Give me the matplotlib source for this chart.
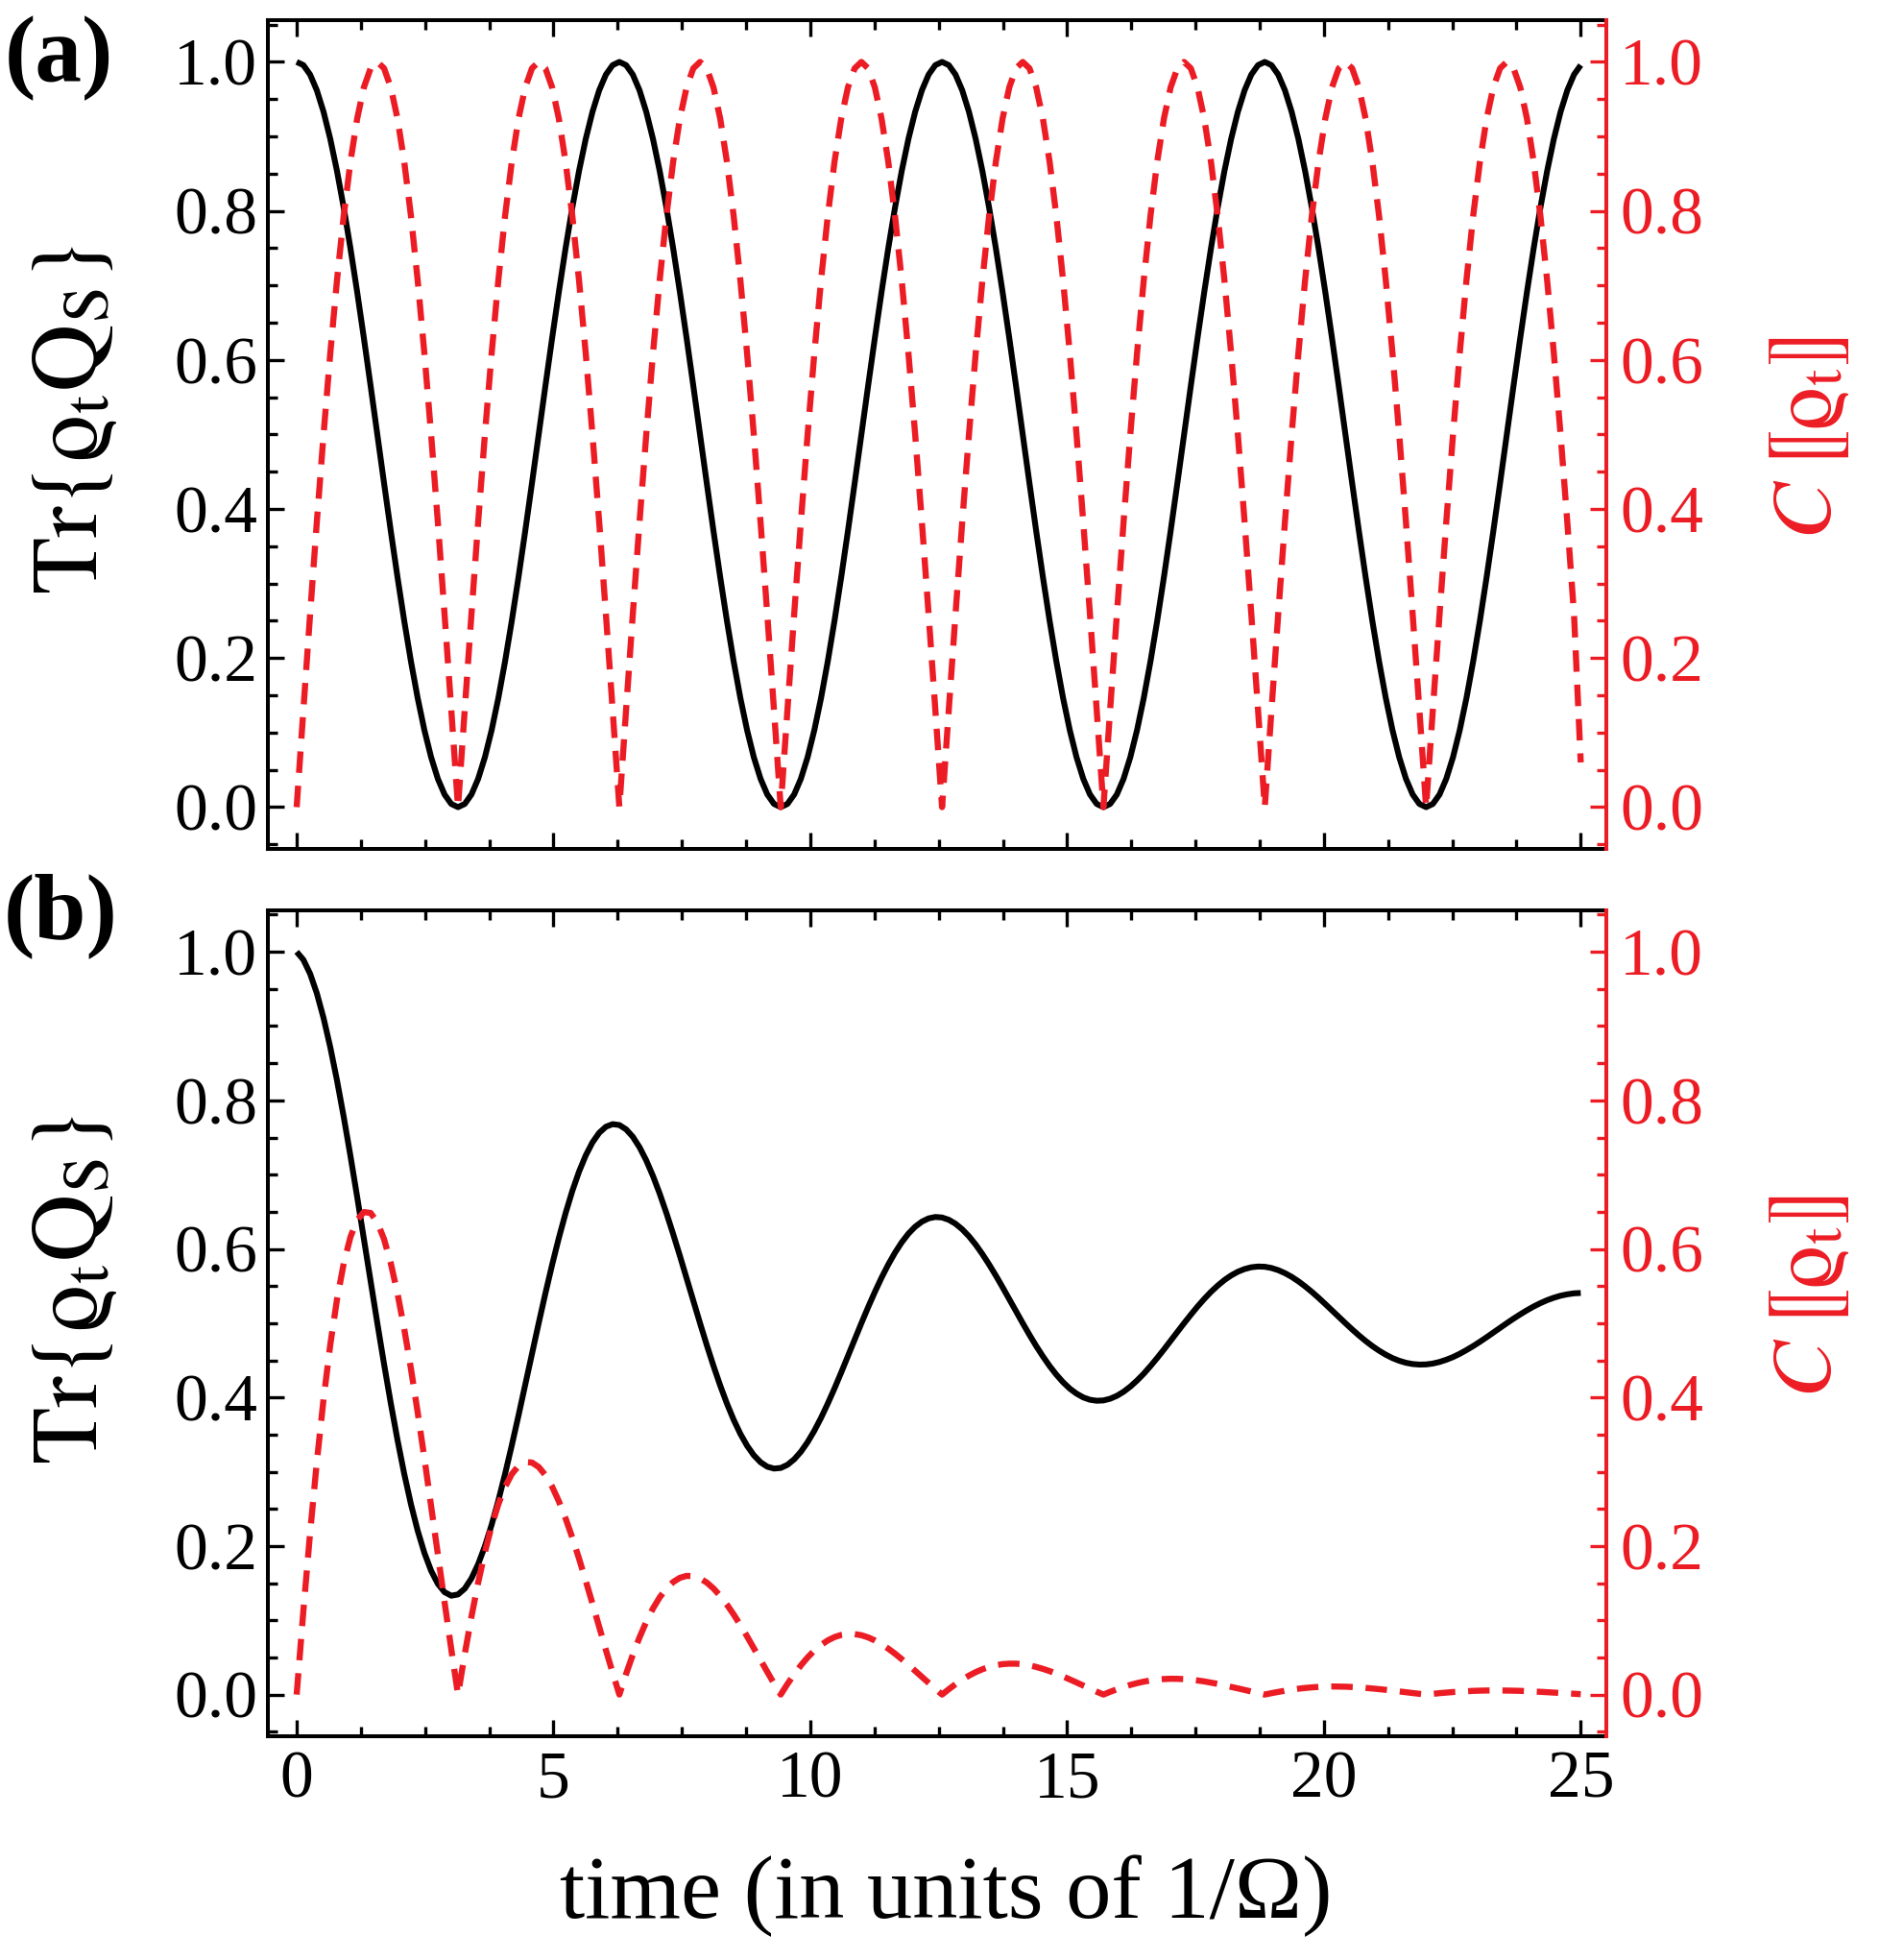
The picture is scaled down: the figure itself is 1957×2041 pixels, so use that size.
import numpy as np
import matplotlib
matplotlib.use("Agg")
import matplotlib.pyplot as plt
from matplotlib.ticker import MultipleLocator

plt.rcParams['font.family'] = ['Liberation Serif', 'DejaVu Serif']
plt.rcParams['mathtext.fontset'] = 'stix'

RED = '#EC1C24'

# time samples (units of 1/Omega)
time_grid = np.linspace(0, 25, 192)

# (a) Tr{rho_t Q_S} -- black solid
trace_a = [
    1.0000, 0.9957, 0.9830, 0.9619, 0.9330, 0.8967, 0.8536, 0.8044, 0.7500, 0.6913, 0.6294, 0.5653,
    0.5000, 0.4347, 0.3706, 0.3087, 0.2500, 0.1956, 0.1464, 0.1033, 0.0670, 0.0381, 0.0170, 0.0043,
    0.0000, 0.0043, 0.0170, 0.0381, 0.0670, 0.1033, 0.1464, 0.1956, 0.2500, 0.3087, 0.3706, 0.4347,
    0.5000, 0.5653, 0.6294, 0.6913, 0.7500, 0.8044, 0.8536, 0.8967, 0.9330, 0.9619, 0.9830, 0.9957,
    1.0000, 0.9957, 0.9830, 0.9619, 0.9330, 0.8967, 0.8536, 0.8044, 0.7500, 0.6913, 0.6294, 0.5653,
    0.5000, 0.4347, 0.3706, 0.3087, 0.2500, 0.1956, 0.1464, 0.1033, 0.0670, 0.0381, 0.0170, 0.0043,
    0.0000, 0.0043, 0.0170, 0.0381, 0.0670, 0.1033, 0.1464, 0.1956, 0.2500, 0.3087, 0.3706, 0.4347,
    0.5000, 0.5653, 0.6294, 0.6913, 0.7500, 0.8044, 0.8536, 0.8967, 0.9330, 0.9619, 0.9830, 0.9957,
    1.0000, 0.9957, 0.9830, 0.9619, 0.9330, 0.8967, 0.8536, 0.8044, 0.7500, 0.6913, 0.6294, 0.5653,
    0.5000, 0.4347, 0.3706, 0.3087, 0.2500, 0.1956, 0.1464, 0.1033, 0.0670, 0.0381, 0.0170, 0.0043,
    0.0000, 0.0043, 0.0170, 0.0381, 0.0670, 0.1033, 0.1464, 0.1956, 0.2500, 0.3087, 0.3706, 0.4347,
    0.5000, 0.5653, 0.6294, 0.6913, 0.7500, 0.8044, 0.8536, 0.8967, 0.9330, 0.9619, 0.9830, 0.9957,
    1.0000, 0.9957, 0.9830, 0.9619, 0.9330, 0.8967, 0.8536, 0.8044, 0.7500, 0.6913, 0.6294, 0.5653,
    0.5000, 0.4347, 0.3706, 0.3087, 0.2500, 0.1956, 0.1464, 0.1033, 0.0670, 0.0381, 0.0170, 0.0043,
    0.0000, 0.0043, 0.0170, 0.0381, 0.0670, 0.1033, 0.1464, 0.1956, 0.2500, 0.3087, 0.3706, 0.4347,
    0.5000, 0.5653, 0.6294, 0.6913, 0.7500, 0.8044, 0.8536, 0.8967, 0.9330, 0.9619, 0.9830, 0.9957,
]

# (a) concurrence C[rho_t] -- red dashed
conc_a = [
    0.0000, 0.1305, 0.2588, 0.3827, 0.5000, 0.6088, 0.7071, 0.7934, 0.8660, 0.9239, 0.9659, 0.9914,
    1.0000, 0.9914, 0.9659, 0.9239, 0.8660, 0.7934, 0.7071, 0.6088, 0.5000, 0.3827, 0.2588, 0.1305,
    0.0000, 0.1305, 0.2588, 0.3827, 0.5000, 0.6088, 0.7071, 0.7934, 0.8660, 0.9239, 0.9659, 0.9914,
    1.0000, 0.9914, 0.9659, 0.9239, 0.8660, 0.7934, 0.7071, 0.6088, 0.5000, 0.3827, 0.2588, 0.1305,
    0.0000, 0.1305, 0.2588, 0.3827, 0.5000, 0.6088, 0.7071, 0.7934, 0.8660, 0.9239, 0.9659, 0.9914,
    1.0000, 0.9914, 0.9659, 0.9239, 0.8660, 0.7934, 0.7071, 0.6088, 0.5000, 0.3827, 0.2588, 0.1305,
    0.0000, 0.1305, 0.2588, 0.3827, 0.5000, 0.6088, 0.7071, 0.7934, 0.8660, 0.9239, 0.9659, 0.9914,
    1.0000, 0.9914, 0.9659, 0.9239, 0.8660, 0.7934, 0.7071, 0.6088, 0.5000, 0.3827, 0.2588, 0.1305,
    0.0000, 0.1305, 0.2588, 0.3827, 0.5000, 0.6088, 0.7071, 0.7934, 0.8660, 0.9239, 0.9659, 0.9914,
    1.0000, 0.9914, 0.9659, 0.9239, 0.8660, 0.7934, 0.7071, 0.6088, 0.5000, 0.3827, 0.2588, 0.1305,
    0.0000, 0.1305, 0.2588, 0.3827, 0.5000, 0.6088, 0.7071, 0.7934, 0.8660, 0.9239, 0.9659, 0.9914,
    1.0000, 0.9914, 0.9659, 0.9239, 0.8660, 0.7934, 0.7071, 0.6088, 0.5000, 0.3827, 0.2588, 0.1305,
    0.0000, 0.1305, 0.2588, 0.3827, 0.5000, 0.6088, 0.7071, 0.7934, 0.8660, 0.9239, 0.9659, 0.9914,
    1.0000, 0.9914, 0.9659, 0.9239, 0.8660, 0.7934, 0.7071, 0.6088, 0.5000, 0.3827, 0.2588, 0.1305,
    0.0000, 0.1305, 0.2588, 0.3827, 0.5000, 0.6088, 0.7071, 0.7934, 0.8660, 0.9239, 0.9659, 0.9914,
    1.0000, 0.9914, 0.9659, 0.9239, 0.8660, 0.7934, 0.7071, 0.6088, 0.5000, 0.3827, 0.2588, 0.0600,
]

# (b) Tr{rho_t Q_S} -- black solid, damped
trace_b = [
    1.0000, 0.9893, 0.9705, 0.9442, 0.9109, 0.8716, 0.8269, 0.7778, 0.7252, 0.6701, 0.6135, 0.5565,
    0.5000, 0.4449, 0.3923, 0.3428, 0.2972, 0.2563, 0.2207, 0.1907, 0.1667, 0.1491, 0.1379, 0.1331,
    0.1348, 0.1426, 0.1564, 0.1756, 0.1998, 0.2286, 0.2612, 0.2971, 0.3355, 0.3758, 0.4171, 0.4587,
    0.5000, 0.5402, 0.5787, 0.6148, 0.6481, 0.6780, 0.7040, 0.7259, 0.7434, 0.7563, 0.7645, 0.7680,
    0.7668, 0.7610, 0.7510, 0.7369, 0.7192, 0.6982, 0.6744, 0.6482, 0.6201, 0.5908, 0.5606, 0.5301,
    0.5000, 0.4706, 0.4425, 0.4161, 0.3918, 0.3700, 0.3510, 0.3350, 0.3222, 0.3128, 0.3068, 0.3043,
    0.3051, 0.3093, 0.3167, 0.3269, 0.3399, 0.3552, 0.3726, 0.3918, 0.4122, 0.4337, 0.4558, 0.4780,
    0.5000, 0.5215, 0.5420, 0.5613, 0.5790, 0.5949, 0.6089, 0.6206, 0.6299, 0.6367, 0.6411, 0.6430,
    0.6423, 0.6392, 0.6339, 0.6264, 0.6170, 0.6058, 0.5930, 0.5790, 0.5641, 0.5484, 0.5323, 0.5161,
    0.5000, 0.4843, 0.4693, 0.4553, 0.4423, 0.4307, 0.4205, 0.4119, 0.4052, 0.4001, 0.3969, 0.3956,
    0.3960, 0.3983, 0.4022, 0.4077, 0.4146, 0.4228, 0.4320, 0.4423, 0.4532, 0.4646, 0.4764, 0.4883,
    0.5000, 0.5114, 0.5224, 0.5327, 0.5422, 0.5506, 0.5581, 0.5643, 0.5693, 0.5729, 0.5753, 0.5763,
    0.5760, 0.5743, 0.5714, 0.5674, 0.5624, 0.5564, 0.5496, 0.5422, 0.5342, 0.5258, 0.5172, 0.5086,
    0.5000, 0.4916, 0.4836, 0.4761, 0.4692, 0.4630, 0.4576, 0.4530, 0.4494, 0.4467, 0.4450, 0.4443,
    0.4445, 0.4457, 0.4478, 0.4508, 0.4544, 0.4588, 0.4638, 0.4692, 0.4750, 0.4811, 0.4874, 0.4937,
    0.5000, 0.5061, 0.5119, 0.5174, 0.5225, 0.5270, 0.5310, 0.5343, 0.5370, 0.5389, 0.5402, 0.5407,
]

# (b) concurrence C[rho_t] -- red dashed, damped
conc_b = [
    0.0000, 0.1129, 0.2178, 0.3131, 0.3978, 0.4710, 0.5320, 0.5804, 0.6161, 0.6390, 0.6496, 0.6484,
    0.6359, 0.6131, 0.5808, 0.5401, 0.4924, 0.4386, 0.3801, 0.3182, 0.2541, 0.1891, 0.1244, 0.0610,
    0.0000, 0.0544, 0.1049, 0.1509, 0.1917, 0.2269, 0.2563, 0.2797, 0.2968, 0.3079, 0.3130, 0.3124,
    0.3064, 0.2954, 0.2799, 0.2602, 0.2372, 0.2113, 0.1832, 0.1533, 0.1225, 0.0911, 0.0599, 0.0294,
    0.0000, 0.0278, 0.0536, 0.0770, 0.0979, 0.1159, 0.1309, 0.1428, 0.1515, 0.1572, 0.1598, 0.1595,
    0.1564, 0.1508, 0.1429, 0.1329, 0.1211, 0.1079, 0.0935, 0.0783, 0.0625, 0.0465, 0.0306, 0.0150,
    0.0000, 0.0142, 0.0273, 0.0393, 0.0500, 0.0592, 0.0668, 0.0729, 0.0774, 0.0803, 0.0816, 0.0814,
    0.0799, 0.0770, 0.0729, 0.0678, 0.0618, 0.0551, 0.0477, 0.0400, 0.0319, 0.0238, 0.0156, 0.0077,
    0.0000, 0.0072, 0.0140, 0.0201, 0.0255, 0.0302, 0.0341, 0.0372, 0.0395, 0.0410, 0.0416, 0.0416,
    0.0408, 0.0393, 0.0372, 0.0346, 0.0316, 0.0281, 0.0244, 0.0204, 0.0163, 0.0121, 0.0080, 0.0039,
    0.0000, 0.0037, 0.0071, 0.0102, 0.0130, 0.0154, 0.0174, 0.0190, 0.0202, 0.0209, 0.0213, 0.0212,
    0.0208, 0.0201, 0.0190, 0.0177, 0.0161, 0.0144, 0.0124, 0.0104, 0.0083, 0.0062, 0.0041, 0.0020,
    0.0000, 0.0019, 0.0036, 0.0052, 0.0067, 0.0079, 0.0089, 0.0097, 0.0103, 0.0107, 0.0109, 0.0108,
    0.0106, 0.0102, 0.0097, 0.0090, 0.0082, 0.0073, 0.0064, 0.0053, 0.0042, 0.0032, 0.0021, 0.0010,
    0.0000, 0.0010, 0.0019, 0.0027, 0.0034, 0.0040, 0.0045, 0.0050, 0.0053, 0.0055, 0.0055, 0.0055,
    0.0054, 0.0052, 0.0050, 0.0046, 0.0042, 0.0037, 0.0032, 0.0027, 0.0022, 0.0016, 0.0011, 0.0005,
]

panels = [("(a)", trace_a, conc_a), ("(b)", trace_b, conc_b)]

fig = plt.figure(figsize=(19.58, 20.41), dpi=100)
axes_rects = [
    [0.1425, 0.5669, 0.7120, 0.4228],
    [0.1425, 0.1142, 0.7120, 0.4214],
]
panel_label_pos = [(0.0312, 0.9701), (0.0322, 0.5326)]
left_label_y = [0.7859, 0.3420]
right_label_y = [0.7766, 0.3386]

for i, (tag, trace, conc) in enumerate(panels):
    ax = fig.add_axes(axes_rects[i])
    ax2 = ax.twinx()

    ax.plot(time_grid, trace, color='black', lw=4.4, solid_capstyle='butt')
    ax2.plot(time_grid, conc, color=RED, lw=4.6, linestyle=(0, (3.5, 2.1)),
             dash_capstyle='butt')

    for a in (ax, ax2):
        a.set_xlim(-0.56, 25.5)
        a.set_ylim(-0.056, 1.056)
        a.yaxis.set_major_locator(MultipleLocator(0.2))
        a.yaxis.set_minor_locator(MultipleLocator(0.05))
        a.yaxis.set_major_formatter(plt.FormatStrFormatter('%.1f'))
    ax.xaxis.set_major_locator(MultipleLocator(5))
    ax.xaxis.set_minor_locator(MultipleLocator(1.25))

    for s in ('left', 'top', 'bottom'):
        ax.spines[s].set_linewidth(2.9)
    ax.spines['right'].set_visible(False)
    for s in ('left', 'top', 'bottom'):
        ax2.spines[s].set_visible(False)
    ax2.spines['right'].set_linewidth(2.9)
    ax2.spines['right'].set_color(RED)

    ax.tick_params(which='both', direction='in', top=True, right=False,
                   width=2.4, labelsize=50)
    ax.tick_params(which='major', length=12.5)
    ax.tick_params(which='minor', length=7.5)
    ax.tick_params(axis='y', pad=8)
    ax.tick_params(axis='x', pad=11)
    if i == 0:
        ax.tick_params(axis='x', labelbottom=False)

    ax2.tick_params(which='both', direction='in', width=2.4, color=RED,
                    labelcolor=RED, labelsize=50, pad=10)
    ax2.tick_params(which='major', length=12.5)
    ax2.tick_params(which='minor', length=7.5)

    fig.text(panel_label_pos[i][0], panel_label_pos[i][1], tag,
             fontsize=70, fontweight='bold', ha='center', va='center')
    fig.text(0.0398, left_label_y[i],
             r'$\mathrm{Tr}\{\mathrm{\varrho}_{\mathrm{t}}\mathrm{Q}_{\mathrm{S}}\}$',
             fontsize=70, rotation=90, ha='center', va='center')
    fig.text(0.9627, right_label_y[i], r'$C\,⟦\mathrm{\varrho}_{\mathrm{t}}⟧$',
             fontsize=64, rotation=90, ha='center', va='center', color=RED)

fig.text(0.5031, 0.0328, 'time (in units of 1/Ω)', fontsize=68,
         ha='center', va='center')

fig.savefig('out.png', dpi=100)
